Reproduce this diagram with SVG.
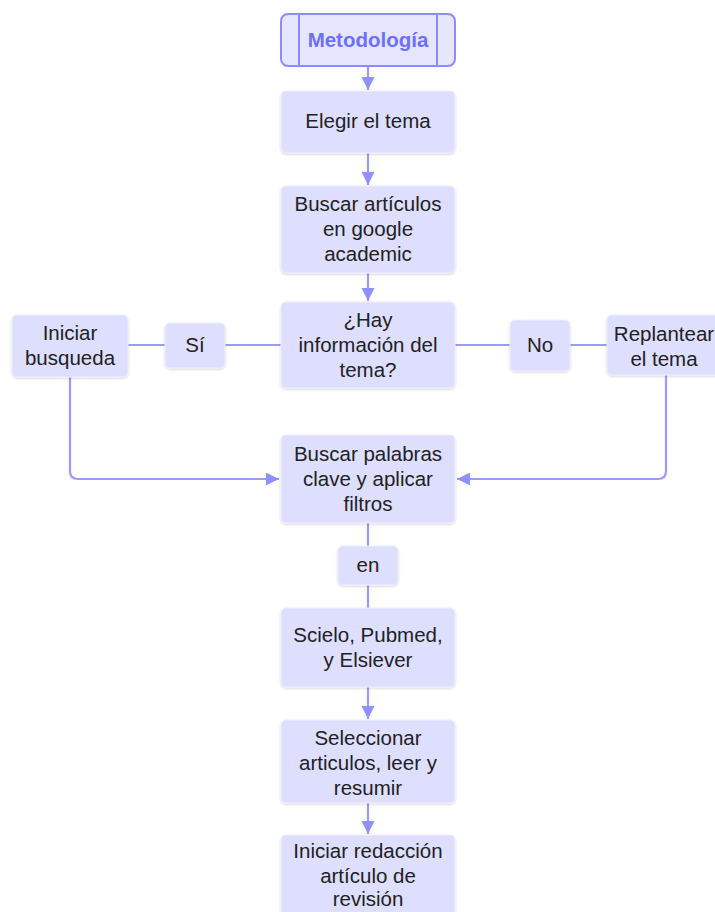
<svg xmlns="http://www.w3.org/2000/svg" width="715" height="912" viewBox="0 0 715 912">
<defs>
<style>
.n{fill:#DEDEFE;stroke:#EEEEFF;stroke-width:1;filter:url(#sh)}
.t{font-family:"Liberation Sans",Arial,sans-serif;font-size:20.5px;fill:#222;text-anchor:middle}
.c{fill:none;stroke:#9A9AFF;stroke-width:2.2}
</style>
<filter id="sh" x="-10%" y="-10%" width="120%" height="130%">
<feDropShadow dx="0" dy="1" stdDeviation="0.8" flood-color="#000" flood-opacity="0.18"/>
</filter>
<marker id="ar" viewBox="0 0 10 10" refX="10" refY="5" markerWidth="6" markerHeight="6" orient="auto" markerUnits="strokeWidth">
<path d="M0,0 L10,5 L0,10 z" fill="#9090FF"/>
</marker>
</defs>
<rect width="715" height="912" fill="#fff"/>
<g id="connectors">
<line class="c" x1="368" y1="67" x2="368" y2="90" marker-end="url(#ar)"/>
<line class="c" x1="368" y1="153" x2="368" y2="185" marker-end="url(#ar)"/>
<line class="c" x1="368" y1="273" x2="368" y2="301" marker-end="url(#ar)"/>
<line class="c" x1="128" y1="345" x2="165" y2="345"/>
<line class="c" x1="225" y1="345" x2="281" y2="345"/>
<line class="c" x1="455" y1="345" x2="510" y2="345"/>
<line class="c" x1="570" y1="345" x2="607" y2="345"/>
<path class="c" d="M70,377 V471 Q70,479 78,479 H279" marker-end="url(#ar)"/>
<path class="c" d="M666,375 V471 Q666,479 658,479 H457" marker-end="url(#ar)"/>
<line class="c" x1="368" y1="523" x2="368" y2="546"/>
<line class="c" x1="368" y1="585" x2="368" y2="608"/>
<line class="c" x1="368" y1="687" x2="368" y2="719" marker-end="url(#ar)"/>
<line class="c" x1="368" y1="803" x2="368" y2="834" marker-end="url(#ar)"/>
</g>
<g id="metodologia">
<rect x="281" y="14" width="174" height="52" rx="7" fill="#E6E6FF" stroke="#8C8CFF" stroke-width="2"/>
<line x1="299" y1="15" x2="299" y2="65" stroke="#8C8CFF" stroke-width="2"/>
<line x1="437" y1="15" x2="437" y2="65" stroke="#8C8CFF" stroke-width="2"/>
<text class="t" x="368" y="47" style="font-weight:bold;fill:#6E6EFF">Metodología</text>
</g>
<g id="elegir">
<rect class="n" x="281" y="91" width="174" height="62" rx="5"/>
<text class="t" x="368" y="128">Elegir el tema</text>
</g>
<g id="buscar-articulos">
<rect class="n" x="281" y="186" width="174" height="87" rx="5"/>
<text class="t" x="368" y="211">Buscar artículos</text>
<text class="t" x="368" y="236">en google</text>
<text class="t" x="368" y="261">academic</text>
</g>
<g id="hay-informacion">
<rect class="n" x="281" y="302" width="174" height="86" rx="5"/>
<text class="t" x="368" y="327">¿Hay</text>
<text class="t" x="368" y="352">información del</text>
<text class="t" x="368" y="377">tema?</text>
</g>
<g id="iniciar-busqueda">
<rect class="n" x="12" y="315" width="116" height="62" rx="5"/>
<text class="t" x="70" y="340">Iniciar</text>
<text class="t" x="70" y="365">busqueda</text>
</g>
<g id="si">
<rect class="n" x="165" y="323" width="60" height="45" rx="5"/>
<text class="t" x="195" y="352">Sí</text>
</g>
<g id="no">
<rect class="n" x="510" y="320" width="60" height="51" rx="5"/>
<text class="t" x="540" y="352">No</text>
</g>
<g id="replantear">
<rect class="n" x="607" y="315" width="114" height="60" rx="5"/>
<text class="t" x="664" y="341">Replantear</text>
<text class="t" x="664" y="366">el tema</text>
</g>
<g id="buscar-palabras">
<rect class="n" x="281" y="435" width="174" height="88" rx="5"/>
<text class="t" x="368" y="461">Buscar palabras</text>
<text class="t" x="368" y="486">clave y aplicar</text>
<text class="t" x="368" y="511">filtros</text>
</g>
<g id="en">
<rect class="n" x="338" y="546" width="60" height="39" rx="5"/>
<text class="t" x="368" y="572">en</text>
</g>
<g id="scielo">
<rect class="n" x="281" y="608" width="174" height="79" rx="5"/>
<text class="t" x="368" y="642">Scielo, Pubmed,</text>
<text class="t" x="368" y="667">y Elsiever</text>
</g>
<g id="seleccionar">
<rect class="n" x="281" y="720" width="174" height="83" rx="5"/>
<text class="t" x="368" y="745">Seleccionar</text>
<text class="t" x="368" y="770">articulos, leer y</text>
<text class="t" x="368" y="795">resumir</text>
</g>
<g id="iniciar-redaccion">
<rect class="n" x="281" y="835" width="174" height="90" rx="5"/>
<text class="t" x="368" y="858">Iniciar redacción</text>
<text class="t" x="368" y="883">artículo de</text>
<text class="t" x="368" y="906">revisión</text>
</g>
</svg>
